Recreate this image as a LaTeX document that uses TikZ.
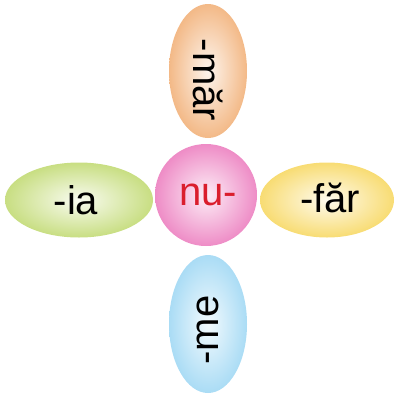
\documentclass[tikz,border=0pt]{standalone}
\usepackage{fontspec}
\setmainfont{Liberation Sans}
\usetikzlibrary{shapes.geometric}
\definecolor{orangeP}{RGB}{243,185,135}
\definecolor{greenP}{RGB}{200,222,130}
\definecolor{yellowP}{RGB}{248,220,115}
\definecolor{blueP}{RGB}{170,220,245}
\definecolor{pinkP}{RGB}{238,140,198}
\definecolor{redT}{RGB}{218,30,45}
\tikzset{
  petal/.style={ellipse, inner sep=0pt, shading=radial},
  hub/.style={circle, inner sep=0pt, shading=radial},
  word/.style={font=\fontsize{40}{44}\selectfont, inner sep=0pt},
}
\begin{document}
\begin{tikzpicture}[x=1pt,y=-1pt]
\useasboundingbox (0,0) rectangle (396,394);
\node[petal, minimum width=78pt, minimum height=134pt, outer color=orangeP, inner color=orangeP!15!white] (top) at (208,71) {};
\node[word, rotate=-90] (topt) at ([yshift=-9pt]top.center) {-măr};
\node[petal, minimum width=78pt, minimum height=138pt, outer color=blueP, inner color=blueP!15!white] (bottom) at (208,324) {};
\node[word, rotate=90] (bottomt) at ([yshift=-6pt]bottom.center) {-me};
\node[petal, minimum width=148pt, minimum height=75pt, outer color=greenP, inner color=greenP!12!white] (left) at (79,200) {};
\node[word] (leftt) at ([xshift=-3pt]left.center) {-ia};
\node[petal, minimum width=134pt, minimum height=75pt, outer color=yellowP, inner color=yellowP!12!white] (right) at (327,200) {};
\node[word] (rightt) at ([xshift=3pt,yshift=2pt]right.center) {-făr};
\node[hub, minimum size=102pt, outer color=pinkP, inner color=pinkP!15!white] (center) at (206,195) {};
\node[word, text=redT] (centert) at ([xshift=2pt]center.center) {nu-};
\end{tikzpicture}
\end{document}
